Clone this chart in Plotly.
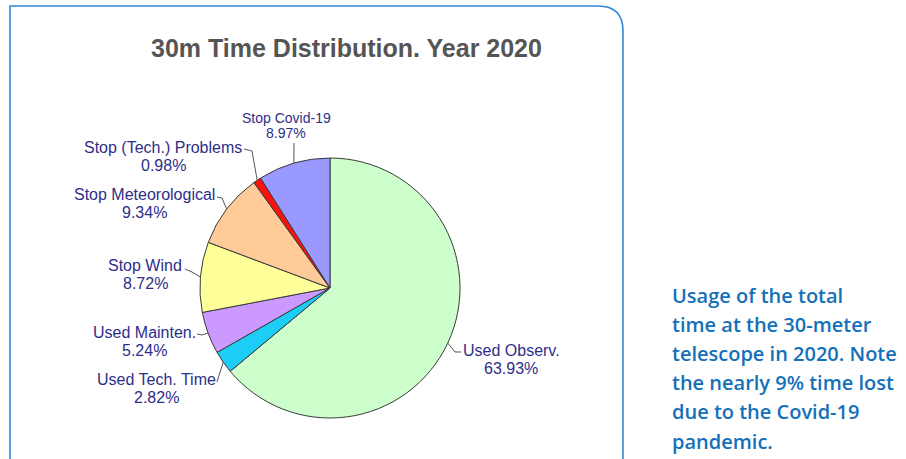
import math
import plotly.graph_objects as go

# Telescope time usage, 2020 (percent of total time)
categories = ["Used Observ.", "Used Tech. Time", "Used Mainten.", "Stop Wind",
              "Stop Meteorological", "Stop (Tech.) Problems", "Stop Covid-19"]
shares = [63.93, 2.82, 5.24, 8.72, 9.34, 0.98, 8.97]
slice_colors = ["#ccffcc", "#1ccdf5", "#cc99ff", "#ffff99", "#ffcc99", "#ff1010", "#9999ff"]

title_text = "30m Time Distribution. Year 2020"
caption_lines = ["Usage of the total", "time at the 30-meter", "telescope in 2020. Note",
                 "the nearly 9% time lost", "due to the Covid-19", "pandemic."]

W, H = 906, 459
CX, CY, R = 330, 288, 130  # pie centre and radius in pixels


def px(x):
    return x / W


def py(y):
    return 1 - y / H


fig = go.Figure(go.Pie(
    labels=categories, values=shares, sort=False, direction="clockwise", rotation=0,
    marker=dict(colors=slice_colors, line=dict(color="#3a3a3a", width=1)),
    textinfo="none", hoverinfo="label+percent", showlegend=False,
    domain=dict(x=[px(CX - R), px(CX + R)], y=[py(CY + R), py(CY - R)]),
))

# label placement (text centre, line gap, font size) and leader-line elbow / end points
label_layout = {
    "Used Observ.":          dict(tx=511, ty=359, gap=18, size=16, path=[(455, 352), (461, 352)]),
    "Used Tech. Time":       dict(tx=156, ty=388, gap=18, size=16, path=[(217, 382)]),
    "Used Mainten.":         dict(tx=144, ty=341, gap=18, size=16, path=[(202, 335), (197, 334)]),
    "Stop Wind":             dict(tx=145, ty=274, gap=18, size=16, path=[(192, 272), (185, 269)]),
    "Stop Meteorological":   dict(tx=144, ty=203, gap=18, size=16, path=[(222, 198), (217, 197)]),
    "Stop (Tech.) Problems": dict(tx=163, ty=156, gap=18, size=16, path=[(252, 151), (244, 149)]),
    "Stop Covid-19":         dict(tx=286, ty=125.5, gap=15, size=14, path=[(294, 143)]),
}

label_font = "Arial, Liberation Sans"
shapes = []
annotations = []
cum = 0.0
total = sum(shares)
for name, val in zip(categories, shares):
    mid = (cum + val / 2) / total * 2 * math.pi
    cum += val
    # point on the rim at the slice's middle angle (clockwise from 12 o'clock)
    x0 = CX + R * math.sin(mid)
    y0 = CY - R * math.cos(mid)
    lay = label_layout[name]
    pts = [(x0, y0)] + lay["path"]
    d = "M " + " L ".join(f"{px(x):.5f},{py(y):.5f}" for x, y in pts)
    shapes.append(dict(type="path", xref="paper", yref="paper", path=d,
                       line=dict(color="#555555", width=1)))
    for k, txt in enumerate([name, f"{val:.2f}%"]):
        annotations.append(dict(
            x=px(lay["tx"]), y=py(lay["ty"] + (k - 0.5) * lay["gap"]),
            xref="paper", yref="paper", text=txt, showarrow=False,
            xanchor="center", yanchor="middle",
            font=dict(family=label_font, size=lay["size"], color="#2e2e8a"),
        ))

# title
annotations.append(dict(
    x=px(346), y=py(48), xref="paper", yref="paper", text=f"<b>{title_text}</b>",
    showarrow=False, xanchor="center", yanchor="middle",
    font=dict(family=label_font, size=25, color="#555555"),
))

# caption on the right
for i, line in enumerate(caption_lines):
    annotations.append(dict(
        x=px(670), y=py(295 + i * 29.2), xref="paper", yref="paper", text=line,
        showarrow=False, xanchor="left", yanchor="middle",
        font=dict(family="Open Sans", size=20, color="#1470b8", weight=600),
    ))

# rounded frame around the chart panel
L, T, RT, rad = 10, 6, 623, 25
frame = (f"M {px(L)},{py(H + 5)} L {px(L)},{py(T)} L {px(RT - rad)},{py(T)} "
         f"Q {px(RT)},{py(T)} {px(RT)},{py(T + rad)} L {px(RT)},{py(H + 5)}")
shapes.append(dict(type="path", xref="paper", yref="paper", path=frame,
                   line=dict(color="#2f88d8", width=1.6)))

fig.update_layout(
    width=W, height=H, margin=dict(l=0, r=0, t=0, b=0),
    paper_bgcolor="white", plot_bgcolor="white",
    shapes=shapes, annotations=annotations,
)

fig.write_html("out.html")
